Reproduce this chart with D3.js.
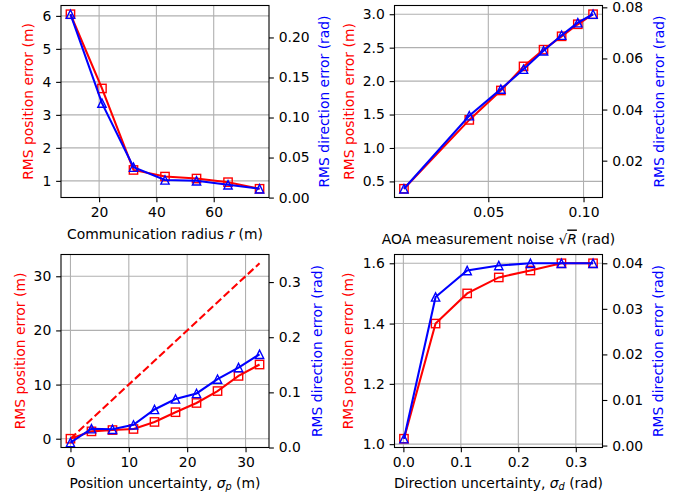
<!DOCTYPE html>
<html>
<head>
<meta charset="utf-8">
<script src="https://cdn.jsdelivr.net/npm/d3@7/dist/d3.min.js"></script>
<style>
  body { margin: 0; background: #fff; }
  svg text { font-family: "DejaVu Sans", sans-serif; }
</style>
</head>
<body>
<div id="chart"></div>
<script>
// top left: communication radius
var radius = [10, 21, 32, 43, 54, 65, 76];
var radiusPosErr = [6.05, 3.8, 1.33, 1.13, 1.07, 0.96, 0.76];
var radiusDirErr = [0.229, 0.118, 0.038, 0.022, 0.021, 0.016, 0.011];

// top right: AOA noise
var aoaNoise = [0.0057, 0.040, 0.0566, 0.0685, 0.079, 0.0885, 0.097, 0.105];
var aoaPosErr = [0.39, 1.42, 1.86, 2.22, 2.47, 2.67, 2.85, 3.0];
var aoaDirErr = [0.009, 0.0376, 0.048, 0.0558, 0.063, 0.0691, 0.074, 0.0773];

// bottom left: position uncertainty
var sigmaP = [0, 3.6, 7.2, 10.8, 14.4, 18, 21.6, 25.2, 28.8, 32.4];
var sigmaPPosErr = [0, 1.36, 1.6, 1.8, 3.1, 4.9, 6.6, 8.8, 11.6, 13.7];
var sigmaPRef = [0, 3.6, 7.2, 10.8, 14.4, 18, 21.6, 25.2, 28.8, 32.4];
var sigmaPDirErr = [0.009, 0.034, 0.033, 0.041, 0.069, 0.088, 0.098, 0.124, 0.145, 0.169];

// bottom right: direction uncertainty
var sigmaD = [0.001, 0.056, 0.111, 0.166, 0.221, 0.275, 0.33];
var sigmaDPosErr = [1.018, 1.4, 1.5, 1.553, 1.576, 1.6, 1.6];
var sigmaDDirErr = [0.0015, 0.0326, 0.0384, 0.0395, 0.040, 0.040, 0.040];

// tick values
var ticksRadiusX = [20, 40, 60];
var ticksRadiusL = [1, 2, 3, 4, 5, 6];
var ticksRadiusR = [0, 0.05, 0.10, 0.15, 0.20];
var ticksAoaX = [0.05, 0.10];
var ticksAoaL = [0.5, 1.0, 1.5, 2.0, 2.5, 3.0];
var ticksAoaR = [0.02, 0.04, 0.06, 0.08];
var ticksSigmaPX = [0, 10, 20, 30];
var ticksSigmaPL = [0, 10, 20, 30];
var ticksSigmaPR = [0, 0.1, 0.2, 0.3];
var ticksSigmaDX = [0, 0.1, 0.2, 0.3];
var ticksSigmaDL = [1.0, 1.2, 1.4, 1.6];
var ticksSigmaDR = [0, 0.01, 0.02, 0.03, 0.04];

var width = 684, height = 496;
var fontSize = 13.9;
var tickLen = 4.86;
var red = "#ff0000", blue = "#0000ff", grid = "#b0b0b0";

var svg = d3.select("#chart")
  .append("svg")
  .attr("width", width)
  .attr("height", height);

// matplotlib style 5% margin
function padded(values) {
  var ext = d3.extent(values);
  var r = ext[1] - ext[0];
  return [ext[0] - 0.05 * r, ext[1] + 0.05 * r];
}

var panels = [
  {
    left: 61, top: 5.5, w: 208, h: 192,
    x: radius, pos: radiusPosErr, dir: radiusDirErr,
    xTicks: ticksRadiusX, lTicks: ticksRadiusL, rTicks: ticksRadiusR,
    xFmt: d3.format("d"), lFmt: d3.format("d"), rFmt: d3.format(".2f"),
    leftLabelX: 28, rightLabelX: 324, xLabelY: 233.5,
    xLabel: [{ t: "Communication radius " }, { t: "r", it: true }, { t: " (m)" }]
  },
  {
    left: 394.5, top: 5.5, w: 208, h: 192,
    x: aoaNoise, pos: aoaPosErr, dir: aoaDirErr,
    xTicks: ticksAoaX, lTicks: ticksAoaL, rTicks: ticksAoaR,
    xFmt: d3.format(".2f"), lFmt: d3.format(".1f"), rFmt: d3.format(".2f"),
    leftLabelX: 349, rightLabelX: 659, xLabelY: 238.5,
    xLabel: [{ t: "AOA measurement noise " }, { t: "\u221a" }, { t: "R", it: true, over: true }, { t: " (rad)" }]
  },
  {
    left: 61, top: 254.5, w: 208, h: 193,
    x: sigmaP, pos: sigmaPPosErr, ref: sigmaPRef, dir: sigmaPDirErr,
    rightDomain: [0, 0.35],
    xTicks: ticksSigmaPX, lTicks: ticksSigmaPL, rTicks: ticksSigmaPR,
    xFmt: d3.format("d"), lFmt: d3.format("d"), rFmt: d3.format(".1f"),
    leftLabelX: 19.5, rightLabelX: 317, xLabelY: 483,
    xLabel: [{ t: "Position uncertainty, " }, { t: "\u03c3", it: true }, { t: "p", it: true, sub: true }, { t: " (m)" }]
  },
  {
    left: 394.5, top: 254.5, w: 208, h: 193,
    x: sigmaD, pos: sigmaDPosErr, dir: sigmaDDirErr,
    xTicks: ticksSigmaDX, lTicks: ticksSigmaDL, rTicks: ticksSigmaDR,
    xFmt: d3.format(".1f"), lFmt: d3.format(".1f"), rFmt: d3.format(".2f"),
    leftLabelX: 348, rightLabelX: 658, xLabelY: 483,
    xLabel: [{ t: "Direction uncertainty, " }, { t: "\u03c3", it: true }, { t: "d", it: true, sub: true }, { t: " (rad)" }]
  }
];

function styleAxis(ax) {
  ax.select(".domain").remove();
  ax.attr("font-family", null).attr("font-size", null);
  ax.selectAll("text").style("font-size", fontSize + "px").attr("fill", "#000");
  ax.selectAll("line").attr("stroke", "#000").attr("stroke-width", 1.1);
}

function drawPanel(p) {
  var g = svg.append("g")
    .attr("transform", "translate(" + p.left + "," + p.top + ")");

  var x = d3.scaleLinear().domain(padded(p.x)).range([0, p.w]);
  var yL = d3.scaleLinear()
    .domain(padded(p.ref ? p.pos.concat(p.ref) : p.pos))
    .range([p.h, 0]);
  var yR = d3.scaleLinear()
    .domain(p.rightDomain || padded(p.dir))
    .range([p.h, 0]);

  // grid
  g.append("g").selectAll("line")
    .data(p.xTicks).enter().append("line")
    .attr("x1", function (d) { return x(d); })
    .attr("x2", function (d) { return x(d); })
    .attr("y1", 0).attr("y2", p.h)
    .attr("stroke", grid).attr("stroke-width", 1.1);
  g.append("g").selectAll("line")
    .data(p.lTicks).enter().append("line")
    .attr("y1", function (d) { return yL(d); })
    .attr("y2", function (d) { return yL(d); })
    .attr("x1", 0).attr("x2", p.w)
    .attr("stroke", grid).attr("stroke-width", 1.1);

  var lineL = d3.line()
    .x(function (d, i) { return x(p.x[i]); })
    .y(function (d) { return yL(d); });
  var lineR = d3.line()
    .x(function (d, i) { return x(p.x[i]); })
    .y(function (d) { return yR(d); });

  // dashed reference line
  if (p.ref) {
    g.append("path")
      .datum(p.ref)
      .attr("d", lineL)
      .attr("fill", "none")
      .attr("stroke", red)
      .attr("stroke-width", 2.08)
      .attr("stroke-dasharray", "7.7,3.3");
  }

  // position error (red squares)
  g.append("path")
    .datum(p.pos)
    .attr("d", lineL)
    .attr("fill", "none")
    .attr("stroke", red)
    .attr("stroke-width", 2.08);
  var hs = 4.17;
  g.append("g").selectAll("rect")
    .data(p.pos).enter().append("rect")
    .attr("x", function (d, i) { return x(p.x[i]) - hs; })
    .attr("y", function (d) { return yL(d) - hs; })
    .attr("width", 2 * hs).attr("height", 2 * hs)
    .attr("fill", "none")
    .attr("stroke", red)
    .attr("stroke-width", 1.39);

  // direction error (blue triangles)
  g.append("path")
    .datum(p.dir)
    .attr("d", lineR)
    .attr("fill", "none")
    .attr("stroke", blue)
    .attr("stroke-width", 2.08);
  g.append("g").selectAll("path")
    .data(p.dir).enter().append("path")
    .attr("d", function (d, i) {
      var cx = x(p.x[i]), cy = yR(d);
      return "M" + cx + "," + (cy - hs) + "L" + (cx - hs) + "," + (cy + hs) +
        "L" + (cx + hs) + "," + (cy + hs) + "Z";
    })
    .attr("fill", "none")
    .attr("stroke", blue)
    .attr("stroke-width", 1.39);

  // frame
  g.append("rect")
    .attr("width", p.w).attr("height", p.h)
    .attr("fill", "none")
    .attr("stroke", "#000")
    .attr("stroke-width", 1.1);

  // axes
  var ax = g.append("g")
    .attr("transform", "translate(0," + p.h + ")")
    .call(d3.axisBottom(x).tickValues(p.xTicks).tickFormat(p.xFmt)
      .tickSize(tickLen).tickPadding(4.86).tickSizeOuter(0));
  styleAxis(ax);
  var al = g.append("g")
    .call(d3.axisLeft(yL).tickValues(p.lTicks).tickFormat(p.lFmt)
      .tickSize(tickLen).tickPadding(4.86).tickSizeOuter(0));
  styleAxis(al);
  var ar = g.append("g")
    .attr("transform", "translate(" + p.w + ",0)")
    .call(d3.axisRight(yR).tickValues(p.rTicks).tickFormat(p.rFmt)
      .tickSize(tickLen).tickPadding(4.86).tickSizeOuter(0));
  styleAxis(ar);

  // axis titles
  var cy = p.top + p.h / 2;
  svg.append("text")
    .attr("transform", "translate(" + p.leftLabelX + "," + cy + ") rotate(-90)")
    .attr("text-anchor", "middle")
    .attr("dominant-baseline", "central")
    .style("font-size", fontSize + "px")
    .attr("fill", red)
    .text("RMS position error (m)");
  svg.append("text")
    .attr("transform", "translate(" + p.rightLabelX + "," + cy + ") rotate(-90)")
    .attr("text-anchor", "middle")
    .attr("dominant-baseline", "central")
    .style("font-size", fontSize + "px")
    .attr("fill", blue)
    .text("RMS direction error (rad)");

  var xt = svg.append("text")
    .attr("x", p.left + p.w / 2)
    .attr("y", p.xLabelY)
    .attr("text-anchor", "middle")
    .attr("dominant-baseline", "central")
    .style("font-size", fontSize + "px")
    .attr("fill", "#000");
  var shifted = false;
  p.xLabel.forEach(function (part) {
    var ts = xt.append("tspan").text(part.t);
    if (part.it) ts.style("font-style", "italic");
    if (part.over) ts.style("text-decoration", "overline");
    if (part.sub) {
      ts.style("font-size", (fontSize * 0.7) + "px").attr("dy", 3.2);
      shifted = true;
    } else if (shifted) {
      ts.attr("dy", -3.2);
      shifted = false;
    }
  });
}

panels.forEach(drawPanel);
</script>
</body>
</html>
